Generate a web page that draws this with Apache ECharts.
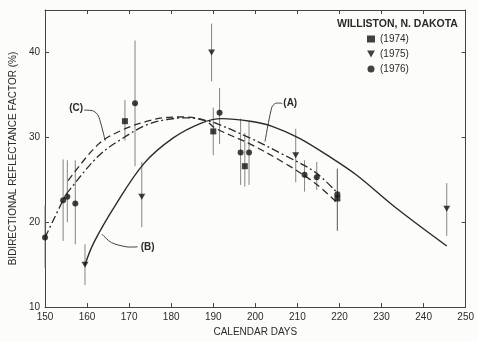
<!DOCTYPE html>
<html>
<head>
<meta charset="utf-8">
<script src="https://cdn.jsdelivr.net/npm/echarts@6/dist/echarts.min.js"></script>
<style>
  html, body { margin: 0; padding: 0; background: #fcfcfa; }
  #chart { width: 477px; height: 342px; }
</style>
</head>
<body>
<div id="chart"></div>
<script>
  // 1974 squares
  var days74 = [169, 190, 197.5, 219.5];
  var refl74 = [31.9, 30.7, 26.6, 22.8];
  var lo74 = [29.6, 27.9, 24.2, 19.0];
  var hi74 = [34.4, 33.5, 30.5, 26.3];
  // 1975 triangles
  var days75 = [159.5, 173, 189.6, 209.6, 245.5];
  var refl75 = [15.0, 23.0, 40.0, 27.9, 21.6];
  var lo75 = [12.6, 19.4, 36.6, 24.7, 18.4];
  var hi75 = [17.4, 27.1, 43.4, 31.0, 24.6];
  // 1976 circles
  var days76 = [150, 154.3, 155.3, 157.2, 171.4, 191.5, 196.5, 198.5, 211.7, 214.6, 219.5];
  var refl76 = [18.2, 22.6, 23.0, 22.2, 34.0, 32.9, 28.2, 28.2, 25.6, 25.3, 23.3];
  var lo76 = [14.6, 17.8, 20.0, 17.4, 26.6, 29.2, 24.4, 24.4, 23.6, 23.8, 19.0];
  var hi76 = [22.0, 27.4, 27.3, 27.3, 41.4, 35.8, 32.2, 31.9, 27.3, 27.1, 26.3];

  // fitted curves
  var curveA = [[150, 18.2], [154.5, 22.8], [155.5, 23.6], [162.7, 27.8], [168.5, 29.9], [174.3, 31.5],
    [179, 32.1], [184, 32.3], [188, 32.0], [190.4, 31.7], [198.8, 29.9], [206.5, 28.0], [214.2, 25.9], [219.6, 23.4]];
  var curveB = [[159.5, 15.0], [161.6, 17.6], [166.6, 21.9], [173.5, 26.9], [180.4, 29.9], [187.3, 31.7],
    [192, 32.2], [198.8, 31.9], [204, 31.3], [210.4, 29.9], [218, 27.6], [224.2, 25.5], [233.4, 21.7], [245.5, 17.2]];
  var curveC = [[155.5, 24.9], [162.7, 29.2], [168.5, 30.9], [174.3, 31.9], [178.1, 32.3], [183, 32.4],
    [188, 32.0], [190.4, 31.1], [198.8, 29.2], [206.5, 27.1], [214.2, 24.6], [219.6, 22.2]];

  // x/y tick setup
  var xMin = 150, xMax = 250, xStep = 10;
  var yMin = 10, yMax = 45, yStep = 10;

  // curve labels + leader lines, in data units
  var annoNames = ['(A)', '(B)', '(C)'];
  var annoAt = [[208.3, 34.0], [174.4, 17.1], [157.4, 33.4]];
  var annoLeader = [
    [[206.4, 34.0], [204.8, 34.0], [203.9, 33.5], [202.3, 29.5]],
    [[172.0, 17.1], [169.4, 17.1], [165.8, 17.6], [163.5, 18.6]],
    [[159.3, 33.2], [161.5, 33.1], [162.7, 32.5], [164.3, 29.6]]
  ];

  var ink = '#2b2b2b';
  var triangle = 'path://M0,0L10,0L5,9Z';

  function zip(xs, ys) {
    return xs.map(function (x, i) { return [x, ys[i]]; });
  }
  var bars = [];
  [[days74, lo74, hi74], [days75, lo75, hi75], [days76, lo76, hi76]].forEach(function (g) {
    g[0].forEach(function (d, i) { bars.push([d, g[1][i], g[2][i]]); });
  });

  var chart = echarts.init(document.getElementById('chart'));
  var option = {
    backgroundColor: '#fcfcfa',
    animation: false,
    textStyle: { fontFamily: 'Liberation Sans', color: ink },
    title: {
      text: 'WILLISTON, N. DAKOTA',
      left: 332, top: 14,
      textStyle: { fontSize: 10.5, fontWeight: 'bold', color: ink }
    },
    legend: {
      orient: 'vertical',
      left: 362, top: 29,
      itemWidth: 8, itemHeight: 7, itemGap: 5,
      textStyle: { fontSize: 10, color: ink },
      data: ['(1974)', '(1975)', '(1976)']
    },
    grid: { left: 38, right: 5, top: 10, bottom: 29 },
    xAxis: [{
      type: 'value', min: xMin, max: xMax, interval: xStep,
      name: 'CALENDAR DAYS', nameLocation: 'middle', nameGap: 19,
      nameTextStyle: { fontSize: 10, color: ink },
      axisLine: { lineStyle: { color: '#444', width: 1 } },
      axisTick: { inside: true, length: 4, lineStyle: { color: '#444' } },
      axisLabel: { fontSize: 10, color: ink, margin: 5 },
      splitLine: { show: false }
    }, {
      type: 'value', min: xMin, max: xMax, interval: xStep, position: 'top',
      axisLine: { lineStyle: { color: '#444', width: 1 } },
      axisTick: { inside: true, length: 4, lineStyle: { color: '#444' } },
      axisLabel: { show: false }, splitLine: { show: false }
    }],
    yAxis: [{
      type: 'value', min: yMin, max: yMax, interval: yStep,
      name: 'BIDIRECTIONAL REFLECTANCE FACTOR (%)', nameLocation: 'middle', nameGap: 26,
      nameTextStyle: { fontSize: 10, color: ink },
      axisLine: { show: true, lineStyle: { color: '#444', width: 1 } },
      axisTick: { inside: true, length: 4, lineStyle: { color: '#444' } },
      axisLabel: {
        fontSize: 10, color: ink, margin: 5,
        formatter: function (v) { return v === yMax ? '' : v; }
      },
      splitLine: { show: false }
    }, {
      type: 'value', min: yMin, max: yMax, interval: yStep, position: 'right',
      axisLine: { show: true, lineStyle: { color: '#444', width: 1 } },
      axisTick: { inside: true, length: 4, lineStyle: { color: '#444' } },
      axisLabel: { show: false }, splitLine: { show: false }
    }],
    series: [{
      type: 'custom',
      silent: true,
      z: 1,
      renderItem: function (params, api) {
        var top = api.coord([api.value(0), api.value(2)]);
        var bot = api.coord([api.value(0), api.value(1)]);
        return {
          type: 'line',
          shape: { x1: top[0], y1: top[1], x2: bot[0], y2: bot[1] },
          style: { stroke: '#666', lineWidth: 0.8 }
        };
      },
      encode: { x: 0, y: [1, 2] },
      data: bars
    }, {
      name: 'A', type: 'line', data: curveA, smooth: 0.35, showSymbol: false, z: 2,
      lineStyle: { color: ink, width: 1.3, type: [8, 3, 2, 3] }
    }, {
      name: 'B', type: 'line', data: curveB, smooth: 0.35, showSymbol: false, z: 2,
      lineStyle: { color: ink, width: 1.4 }
    }, {
      name: 'C', type: 'line', data: curveC, smooth: 0.35, showSymbol: false, z: 2,
      lineStyle: { color: ink, width: 1.3, type: [7, 4] }
    }, {
      name: '(1974)', type: 'scatter', data: zip(days74, refl74),
      symbol: 'rect', symbolSize: 6, itemStyle: { color: '#111' }, z: 3
    }, {
      name: '(1975)', type: 'scatter', data: zip(days75, refl75),
      symbol: triangle, symbolSize: [7, 6], itemStyle: { color: '#111' }, z: 3
    }, {
      name: '(1976)', type: 'scatter', data: zip(days76, refl76),
      symbol: 'circle', symbolSize: 6, itemStyle: { color: '#111' }, z: 3
    }]
  };
  chart.setOption(option);

  // curve labels, placed from data coordinates
  var gfx = [];
  annoNames.forEach(function (name, i) {
    var p = chart.convertToPixel({ gridIndex: 0 }, annoAt[i]);
    gfx.push({
      type: 'text', x: p[0], y: p[1],
      style: { text: name, font: 'bold 10px "Liberation Sans"', fill: ink, align: 'center', verticalAlign: 'middle' }
    });
    var pts = annoLeader[i].map(function (d) { return chart.convertToPixel({ gridIndex: 0 }, d); });
    gfx.push({
      type: 'polyline', shape: { points: pts, smooth: 0.3 },
      style: { stroke: ink, lineWidth: 0.9, fill: null }
    });
  });
  chart.setOption({ graphic: gfx });
</script>
</body>
</html>
